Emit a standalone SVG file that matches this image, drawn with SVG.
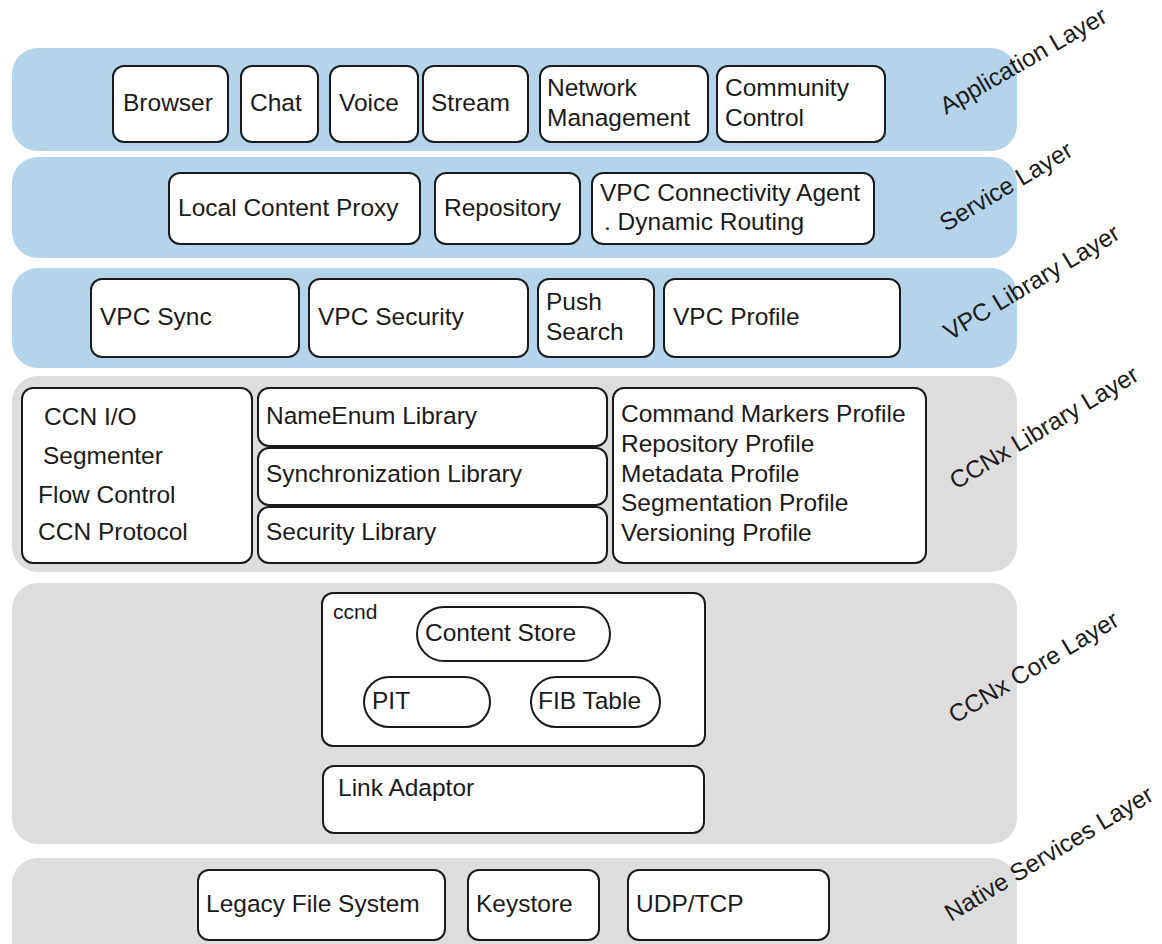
<svg xmlns="http://www.w3.org/2000/svg" width="1162" height="944" viewBox="0 0 1162 944">
<style>
text{font-family:"Liberation Sans",Arial,sans-serif;font-size:24.5px;fill:#1a1a1a}
.blue{fill:#b4d4ec}
.gray{fill:#dddddd}
.box{fill:#fff;stroke:#1a1a1a;stroke-width:2}
text.lbl{font-size:24.5px}
text.small{font-size:21px}
</style>
<rect width="1162" height="944" fill="#fff"/>
<g id="layers">
<rect class="blue" x="12" y="48" width="1005" height="103" rx="26"/>
<rect class="blue" x="12" y="157" width="1005" height="101" rx="26"/>
<rect class="blue" x="12" y="268" width="1005" height="100" rx="26"/>
<rect class="gray" x="12" y="376" width="1005" height="196" rx="26"/>
<rect class="gray" x="12" y="583" width="1005" height="261" rx="26"/>
<rect class="gray" x="12" y="858" width="1005" height="110" rx="26"/>
</g>
<g id="layer-labels">
<text class="lbl" transform="translate(946 115) rotate(-30)">Application Layer</text>
<text class="lbl" transform="translate(946 232) rotate(-31)">Service Layer</text>
<text class="lbl" transform="translate(950 341) rotate(-31)">VPC Library Layer</text>
<text class="lbl" transform="translate(956 490) rotate(-31)">CCNx Library Layer</text>
<text class="lbl" transform="translate(955 724) rotate(-31)">CCNx Core Layer</text>
<text class="lbl" transform="translate(951 922) rotate(-31)">Native Services Layer</text>
</g>
<g id="browser"><rect class="box" x="113" y="66" width="115" height="76" rx="11"/><text x="123" y="111">Browser</text></g>
<g id="chat"><rect class="box" x="241" y="66" width="77" height="76" rx="11"/><text x="250" y="111">Chat</text></g>
<g id="voice"><rect class="box" x="330" y="66" width="88" height="76" rx="11"/><text x="339" y="111">Voice</text></g>
<g id="stream"><rect class="box" x="423" y="66" width="105" height="76" rx="11"/><text x="431" y="111">Stream</text></g>
<g id="netmgmt"><rect class="box" x="540" y="66" width="168" height="76" rx="11"/><text x="547" y="96">Network</text><text x="547" y="126">Management</text></g>
<g id="community"><rect class="box" x="717" y="66" width="168" height="76" rx="11"/><text x="725" y="96">Community</text><text x="725" y="126">Control</text></g>
<g id="lcp"><rect class="box" x="169" y="173" width="251" height="71" rx="11"/><text x="178" y="216">Local Content Proxy</text></g>
<g id="repository"><rect class="box" x="435" y="173" width="145" height="71" rx="11"/><text x="444" y="216">Repository</text></g>
<g id="vpcagent"><rect class="box" x="592" y="173" width="282" height="71" rx="11"/><text x="600" y="201">VPC Connectivity Agent</text><text x="604" y="230">. Dynamic Routing</text></g>
<g id="vpcsync"><rect class="box" x="91" y="279" width="208" height="78" rx="11"/><text x="100" y="325">VPC Sync</text></g>
<g id="vpcsecurity"><rect class="box" x="309" y="279" width="219" height="78" rx="11"/><text x="318" y="325">VPC Security</text></g>
<g id="pushsearch"><rect class="box" x="538" y="279" width="116" height="78" rx="11"/><text x="546" y="310">Push</text><text x="546" y="340">Search</text></g>
<g id="vpcprofile"><rect class="box" x="664" y="279" width="236" height="78" rx="11"/><text x="673" y="325">VPC Profile</text></g>
<g id="ccnio"><rect class="box" x="22" y="388" width="230" height="175" rx="11"/><text x="44" y="425">CCN I/O</text><text x="43" y="464">Segmenter</text><text x="38" y="503">Flow Control</text><text x="38" y="540">CCN Protocol</text></g>
<g id="nameenum"><rect class="box" x="258" y="388" width="349" height="58" rx="11"/><text x="266" y="424">NameEnum Library</text></g>
<g id="synclib"><rect class="box" x="258" y="448" width="349" height="57" rx="11"/><text x="266" y="482">Synchronization Library</text></g>
<g id="seclib"><rect class="box" x="258" y="507" width="349" height="56" rx="11"/><text x="266" y="540">Security Library</text></g>
<g id="profiles"><rect class="box" x="613" y="388" width="313" height="175" rx="11"/><text x="621" y="422">Command Markers Profile</text><text x="621" y="452">Repository Profile</text><text x="621" y="482">Metadata Profile</text><text x="621" y="511">Segmentation Profile</text><text x="621" y="541">Versioning Profile</text></g>
<g id="ccnd"><rect class="box" x="322" y="593" width="383" height="153" rx="11"/><text class="small" x="333" y="619">ccnd</text></g>
<g id="contentstore"><rect class="box" x="417" y="607" width="193" height="54" rx="27" stroke-width="1.5"/><text x="425" y="641">Content Store</text></g>
<g id="pit"><rect class="box" x="364" y="677" width="126" height="50" rx="25" stroke-width="1.5"/><text x="372" y="709">PIT</text></g>
<g id="fib"><rect class="box" x="531" y="677" width="129" height="50" rx="25" stroke-width="1.5"/><text x="538" y="709">FIB Table</text></g>
<g id="linkadaptor"><rect class="box" x="323" y="766" width="381" height="67" rx="11"/><text x="338" y="796">Link Adaptor</text></g>
<g id="legacyfs"><rect class="box" x="198" y="870" width="247" height="70" rx="11"/><text x="206" y="912">Legacy File System</text></g>
<g id="keystore"><rect class="box" x="468" y="870" width="131" height="70" rx="11"/><text x="476" y="912">Keystore</text></g>
<g id="udptcp"><rect class="box" x="628" y="870" width="201" height="70" rx="11"/><text x="636" y="912">UDP/TCP</text></g>
<g id="connectors"></g>
</svg>
